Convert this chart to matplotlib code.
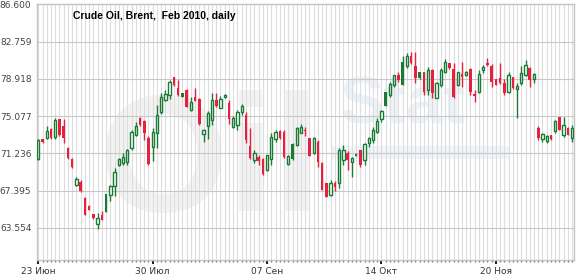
import numpy as np
import pandas as pd
import matplotlib
matplotlib.use('Agg')
import matplotlib.pyplot as plt

# daily OHLC of the Brent Feb 2010 contract
opens = [70.65, 72.70, 72.78, 73.75, 72.90, 74.75, 74.05, 71.80, 70.60, 67.95,
         68.30, 66.60, 65.80, 64.95, 63.95, 64.87, 65.20, 66.95, 67.85, 70.00,
         70.20, 70.35, 71.80, 73.10, 74.85, 74.55, 72.80, 71.90, 73.30, 75.45,
         76.75, 77.30, 79.10, 78.00, 77.10, 77.80, 75.70, 77.05, 76.85, 73.25,
         74.05, 74.67, 76.75, 75.95, 77.05, 76.45, 74.00, 74.20, 75.45, 75.20,
         72.00, 70.55, 70.85, 70.65, 69.50, 70.60, 72.75, 73.55, 73.40, 70.15,
         70.65, 72.10, 73.35, 73.60, 72.80, 71.25, 72.40, 70.20, 68.15, 66.90,
         68.15, 68.15, 70.55, 71.25, 70.35, 71.00, 71.55, 70.50, 72.30, 72.60,
         73.45, 74.75, 76.15, 77.30, 78.30, 79.30, 78.30, 80.25, 81.30, 80.20,
         79.00, 79.60, 77.77, 79.84, 76.90, 78.30, 79.60, 80.55, 79.90, 78.30,
         79.45, 79.30, 79.90, 77.35, 77.60, 79.84, 80.55, 80.25, 78.90, 79.00,
         78.50, 77.55, 79.10, 77.85, 78.50, 79.30, 80.05, 78.90, 73.85, 72.70,
         72.50, 73.10, 73.55, 74.95, 73.10, 73.85, 72.80]
highs = [72.71, 72.75, 74.05, 73.85, 74.85, 74.80, 74.80, 71.90, 70.70, 68.75,
         68.50, 66.70, 65.85, 65.00, 65.05, 65.25, 67.00, 68.00, 69.70, 70.70,
         71.25, 71.70, 73.60, 74.45, 75.00, 74.70, 73.00, 73.80, 76.20, 77.45,
         77.80, 78.80, 79.15, 78.80, 77.50, 77.90, 77.05, 77.95, 76.95, 73.75,
         75.60, 77.45, 77.45, 77.15, 77.40, 76.74, 75.05, 75.70, 76.30, 75.55,
         73.85, 71.58, 71.05, 70.75, 71.10, 73.30, 73.60, 73.65, 73.60, 71.05,
         72.30, 74.00, 74.25, 74.00, 72.85, 72.90, 72.60, 70.30, 68.20, 68.50,
         68.40, 71.80, 72.10, 71.50, 70.85, 71.25, 71.60, 72.25, 72.95, 73.95,
         74.90, 75.70, 77.60, 78.60, 79.30, 79.60, 81.30, 81.60, 81.70, 81.70,
         79.65, 79.65, 80.15, 79.90, 78.55, 80.05, 81.00, 80.60, 80.55, 79.65,
         80.70, 79.70, 80.00, 77.75, 79.84, 80.35, 81.05, 80.45, 78.95, 80.55,
         78.90, 79.65, 79.15, 78.50, 80.20, 80.87, 80.10, 79.50, 74.05, 73.30,
         73.10, 73.15, 74.65, 75.00, 75.00, 73.90, 74.15]
lows = [70.54, 72.35, 72.70, 72.70, 72.70, 73.00, 72.30, 70.65, 69.70, 67.90,
        67.20, 64.85, 65.35, 64.50, 63.45, 64.30, 65.15, 66.35, 66.85, 69.90,
        70.00, 70.05, 71.55, 73.00, 74.10, 72.60, 70.00, 70.40, 71.80, 75.30,
        76.60, 76.85, 78.20, 77.20, 77.05, 76.00, 75.60, 76.60, 74.15, 72.40,
        72.70, 74.15, 76.00, 75.90, 76.90, 74.25, 73.80, 73.65, 75.20, 72.30,
        70.60, 70.20, 70.03, 69.00, 69.40, 70.00, 72.40, 72.70, 70.70, 70.00,
        70.50, 72.00, 73.30, 73.00, 70.95, 71.20, 69.80, 67.40, 66.70, 66.80,
        67.30, 67.65, 70.00, 69.50, 68.80, 70.95, 69.85, 70.00, 71.90, 72.30,
        73.35, 74.50, 76.10, 77.00, 78.10, 78.60, 78.30, 80.00, 80.50, 78.45,
        78.95, 77.25, 77.25, 76.90, 76.90, 78.10, 79.50, 79.95, 76.95, 78.20,
        78.10, 79.25, 77.25, 76.55, 77.50, 79.50, 80.30, 78.10, 78.25, 78.40,
        77.25, 77.50, 77.90, 74.85, 78.30, 79.25, 78.10, 78.45, 72.60, 72.40,
        72.27, 72.60, 73.35, 73.60, 72.95, 73.10, 72.40]
closes = [72.61, 72.40, 73.57, 72.80, 74.70, 73.10, 72.80, 70.75, 69.80, 68.60,
          67.30, 64.90, 65.40, 64.60, 64.60, 64.35, 67.00, 67.85, 69.35, 70.60,
          70.85, 71.60, 73.45, 74.05, 74.15, 73.35, 70.10, 73.40, 75.20, 77.00,
          77.40, 78.60, 78.30, 77.25, 77.45, 76.05, 76.55, 76.65, 74.25, 73.65,
          75.40, 76.74, 76.10, 76.85, 77.25, 74.75, 74.85, 75.55, 76.15, 72.60,
          70.70, 71.25, 70.45, 69.10, 71.05, 72.95, 73.40, 72.80, 70.90, 70.95,
          72.20, 73.85, 74.00, 73.50, 71.00, 72.80, 70.35, 67.45, 66.75, 68.15,
          67.75, 71.55, 71.58, 70.55, 70.75, 71.20, 70.05, 72.20, 72.80, 73.65,
          74.60, 75.60, 77.55, 78.40, 79.30, 78.80, 80.70, 81.30, 80.55, 79.00,
          79.60, 77.55, 79.84, 77.45, 78.50, 79.84, 80.65, 80.00, 77.05, 79.60,
          79.15, 79.65, 77.60, 77.15, 79.40, 80.15, 80.35, 78.55, 78.30, 78.45,
          77.45, 79.30, 77.95, 78.20, 79.50, 80.35, 78.80, 79.40, 72.82, 73.25,
          73.00, 72.70, 74.60, 73.65, 74.15, 73.15, 73.85]

dates = pd.bdate_range('2009-06-23', periods=len(closes))
ru_months = {6: 'Июн', 7: 'Июл', 8: 'Авг', 9: 'Сен', 10: 'Окт', 11: 'Ноя', 12: 'Дек'}
label_every = 27

y_top = 86.6
y_step = 3.841

green = '#1b7a35'
red = '#e8203f'
solid_up = {16, 34, 60, 75, 82, 86, 90}

fig = plt.figure(figsize=(5.8, 2.79), dpi=100)
ax = fig.add_axes([37 / 580, 1 - 260 / 279, 537 / 580, 256 / 279])

# faint logo in the background
ax.text(0.32, 0.36, 'Oil', transform=ax.transAxes, fontsize=120, fontweight='bold',
        color='#f3f3f3', ha='center', va='center', zorder=0.1, family='Liberation Sans')
ax.text(0.68, 0.60, 'Stat', transform=ax.transAxes, fontsize=48, fontweight='bold',
        color='#edf2f9', ha='center', va='center', zorder=0.1, family='Liberation Sans')
ax.axhspan(70.6, 72.0, xmin=0.55, xmax=0.88, color='#f1f5fb', zorder=0.1, lw=0)

x = np.arange(len(closes))
o = np.array(opens)
h = np.array(highs)
l = np.array(lows)
c = np.array(closes)

for i in x:
    col = green if c[i] >= o[i] else red
    ax.vlines(i, l[i], h[i], color=col, lw=1, zorder=3)
    bottom = min(o[i], c[i])
    height = max(abs(c[i] - o[i]), 0.12)
    if col == green and i not in solid_up:
        ax.bar(i, height, bottom=bottom, width=0.55, facecolor='white',
               edgecolor=col, lw=1, zorder=4)
    else:
        ax.bar(i, height, bottom=bottom, width=0.6, color=col, lw=0, zorder=4)

ax.set_xlim(-0.31, 126.44)
ax.set_ylim(60.22, 86.65)

yt = [y_top - y_step * k for k in range(7)]
ax.set_yticks(yt)
ax.set_yticklabels([f'{v:.3f}' for v in yt])

maj = list(range(0, len(closes), label_every))
ax.set_xticks(maj)
ax.set_xticklabels([f"{dates[i].day:02d} {ru_months[dates[i].month]}" for i in maj])
ax.set_xticks(x, minor=True)

ax.set_axisbelow(True)
ax.grid(axis='y', color='#c8c8c8', lw=0.8)
ax.grid(axis='x', which='both', color='#dddddd', lw=0.8)

ax.tick_params(axis='y', length=0, pad=4, labelsize=6.5, labelcolor='#444444')
ax.tick_params(axis='x', which='major', length=3, width=1.5, color='#222222',
               pad=2, labelsize=6.5, labelcolor='#333333')
ax.tick_params(axis='x', which='minor', length=1.5, width=1, color='#777777')

for s in ax.spines.values():
    s.set_color('#c4c4c4')
    s.set_linewidth(1)

ax.text(0.067, 0.952, 'Crude Oil, Brent,  Feb 2010, daily', transform=ax.transAxes,
        fontsize=7.5, fontweight='bold', family='Liberation Sans', va='center',
        ha='left', zorder=6)

fig.savefig('out.png', dpi=100)
